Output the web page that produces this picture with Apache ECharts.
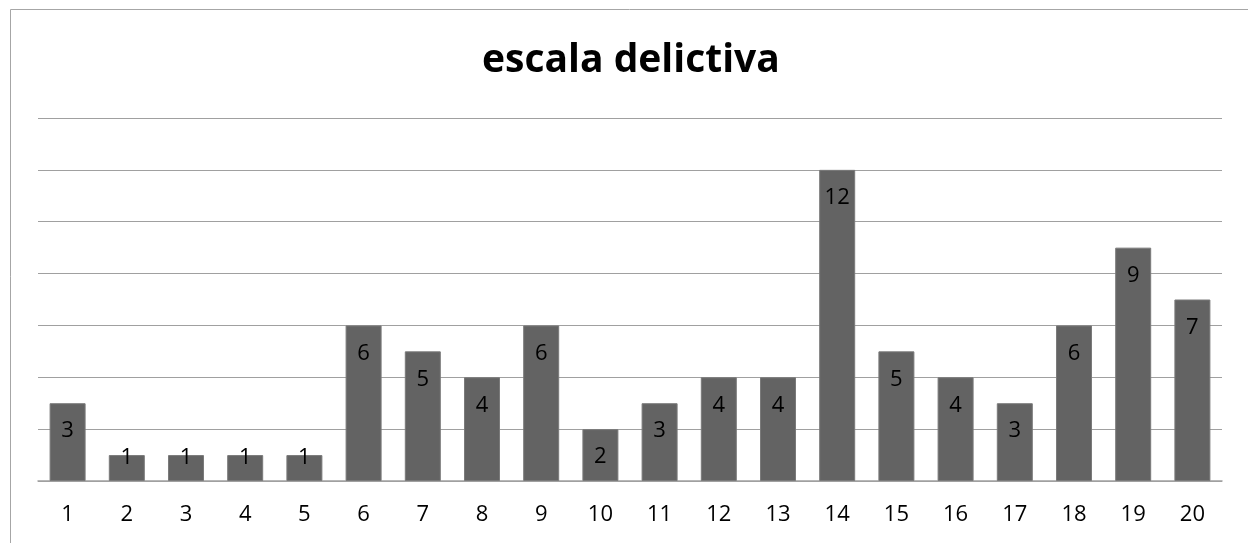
<!DOCTYPE html>
<html><head><meta charset="utf-8">
<script src="https://cdn.jsdelivr.net/npm/echarts@6/dist/echarts.min.js"></script>
<style>html,body{margin:0;padding:0;background:#fff}#c{width:1248px;height:543px}</style>
</head><body><div id="c"></div>
<script>
var categories = ['1','2','3','4','5','6','7','8','9','10','11','12','13','14','15','16','17','18','19','20'];
var values = [3,1,1,1,1,6,5,4,6,2,3,4,4,12,5,4,3,6,9,7];
var chartTitle = 'escala delictiva';

var font = 'Open Sans, Liberation Sans, sans-serif';
var seriesData = values.map(function (v) {
  if (v <= 1) {
    return { value: v, label: { position: 'top', distance: -14 } };
  }
  return v;
});

var chart = echarts.init(document.getElementById('c'));
chart.setOption({
  animation: false,
  backgroundColor: '#fff',
  title: {
    text: chartTitle, left: 477, top: 36,
    textStyle: { fontFamily: font, fontWeight: 'bold', fontSize: 39, color: '#000' }
  },
  graphic: [{
    type: 'rect', left: 8, top: 7, z: -1,
    shape: { width: 1238, height: 560 },
    style: { fill: 'none', stroke: '#a6a6a6', lineWidth: 1 }
  }],
  grid: { left: 38, right: 26, top: 118, bottom: 62 },
  xAxis: {
    type: 'category', data: categories,
    axisLine: { lineStyle: { color: '#a0a0a0', width: 1.5 } },
    axisTick: { show: false },
    axisLabel: { fontFamily: font, fontSize: 22, color: '#000', margin: 23 }
  },
  yAxis: {
    type: 'value', min: 0, max: 14, interval: 2,
    axisLabel: { show: false }, axisLine: { show: false }, axisTick: { show: false },
    splitLine: { lineStyle: { color: '#a0a0a0', width: 1.2 } }
  },
  series: [{
    type: 'bar', data: seriesData, barWidth: 36,
    itemStyle: { color: '#636363', borderColor: '#7a7a7a', borderWidth: 1 },
    label: {
      show: true, position: 'insideTop', distance: 17,
      fontFamily: font, fontSize: 22, color: '#000'
    }
  }]
});
</script></body></html>
